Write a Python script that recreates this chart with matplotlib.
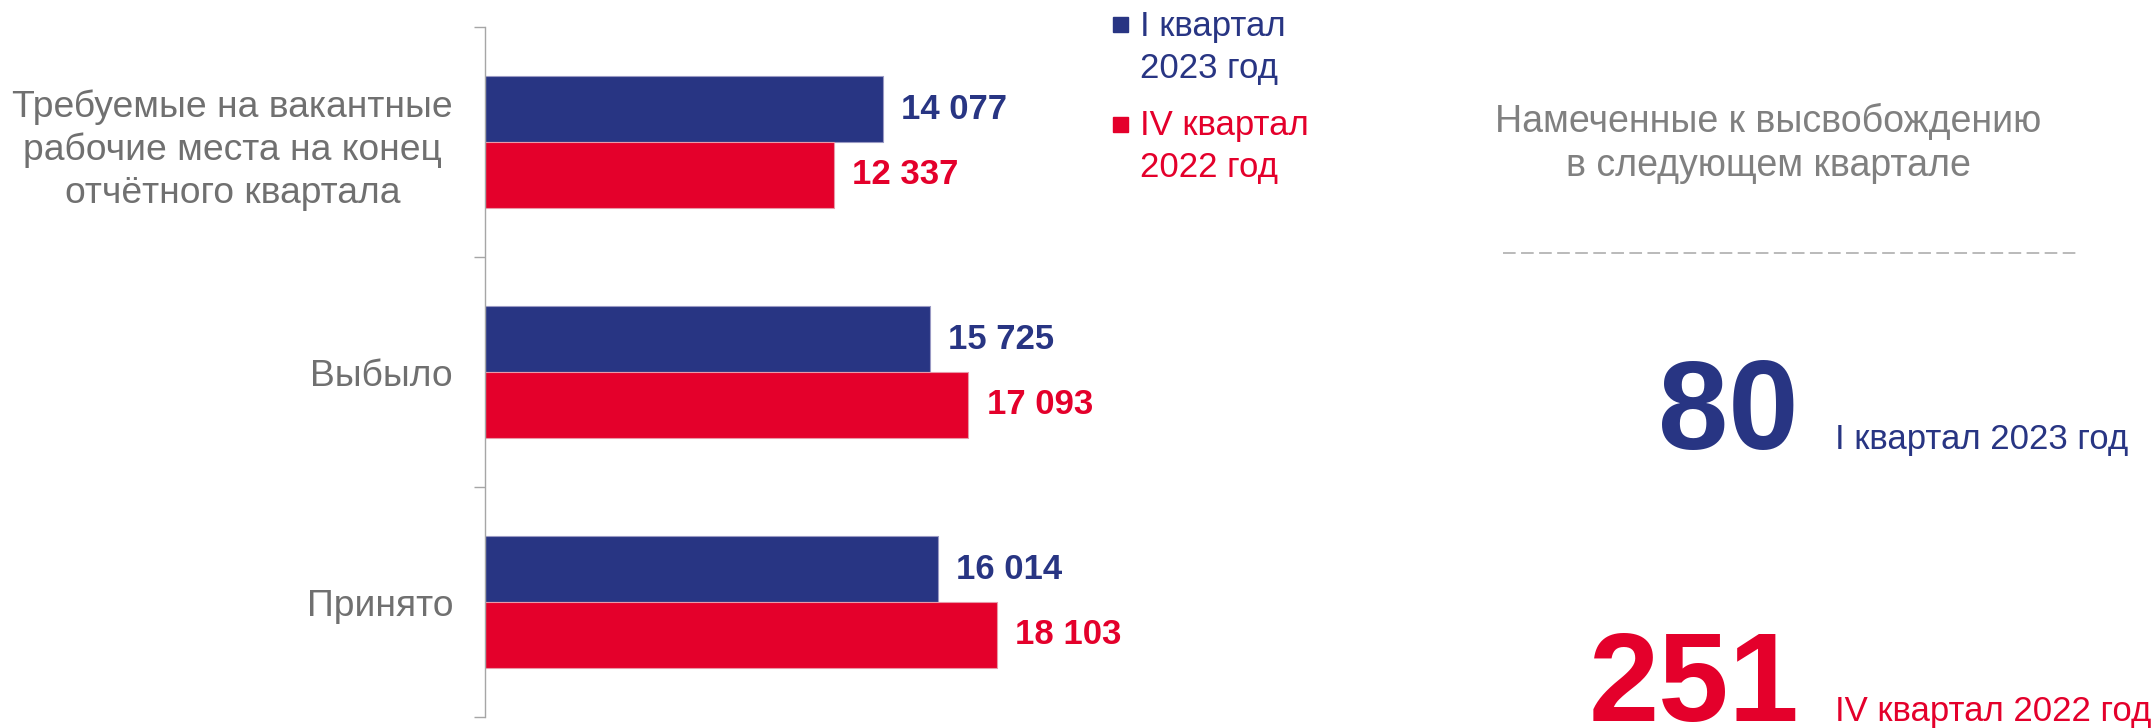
import numpy as np
import matplotlib
matplotlib.use("Agg")
import matplotlib.pyplot as plt
from matplotlib.patches import Rectangle
from matplotlib.lines import Line2D

plt.rcParams['font.family'] = ['Liberation Sans', 'DejaVu Sans']

# данные
categories = ["Требуемые на вакантные\nрабочие места на конец\nотчётного квартала",
              "Выбыло",
              "Принято"]
q1_2023 = [14077, 15725, 16014]
q4_2022 = [12337, 17093, 18103]
series_labels = ["I квартал\n2023 год", "IV квартал\n2022 год"]
release_values = [80, 251]
release_labels = ["I квартал 2023 год", "IV квартал 2022 год"]
release_title = "Намеченные к высвобождению\nв следующем квартале"

BLUE = "#283583"
RED = "#E4002B"
GREY = "#707070"

W, H = 2153, 728
fig = plt.figure(figsize=(W / 100, H / 100), dpi=100)
ax = fig.add_axes([485 / W, 11 / H, 792 / W, 690 / H])

y = np.arange(len(categories))
h = 1 / 3.5
b1 = ax.barh(y - h / 2, q1_2023, height=h, color=BLUE, edgecolor="#9a9ac4", linewidth=0.8)
b2 = ax.barh(y + h / 2, q4_2022, height=h, color=RED, edgecolor="#e899a8", linewidth=0.8)

fmt = lambda v: f"{v:,}".replace(",", " ")
ax.bar_label(b1, labels=[fmt(v) for v in q1_2023], padding=13, color=BLUE,
             fontsize=25, fontweight="bold")
ax.bar_label(b2, labels=[fmt(v) for v in q4_2022], padding=13, color=RED,
             fontsize=25, fontweight="bold")

ax.set_xlim(0, 28000)
ax.set_ylim(len(categories) - 0.5, -0.5)
ax.set_yticks(y)
ax.set_yticklabels(categories, fontsize=26.8, color=GREY, multialignment="center",
                   linespacing=1.28)
ax.set_yticks(np.arange(len(categories) + 1) - 0.5, minor=True)
ax.tick_params(axis="y", which="major", length=0, pad=23)
ax.tick_params(axis="y", which="minor", length=8, width=1, color="#a6a6a6")
ax.set_xticks([])
for s in ["top", "right", "bottom"]:
    ax.spines[s].set_visible(False)
ax.spines["left"].set_color("#a6a6a6")
ax.spines["left"].set_linewidth(1)

# легенда
for i, (lab, col) in enumerate(zip(series_labels, [BLUE, RED])):
    top = 17 + i * 100
    fig.add_artist(Rectangle((1113 / W, 1 - (top + 15) / H), 15 / W, 15 / H,
                             transform=fig.transFigure, color=col))
    fig.text(1140 / W, 1 - (78 + i * 99) / H, lab, color=col, fontsize=25,
             va="baseline", ha="left", linespacing=1.33)

# правая часть
fig.text(1768 / W, 1 - 176 / H, release_title, color="#808080", fontsize=27,
         ha="center", va="baseline", multialignment="center", linespacing=1.28)
fig.add_artist(Line2D([1503 / W, 2080 / W], [1 - 253 / H, 1 - 253 / H],
                      transform=fig.transFigure, color="#b4b4b4", lw=1.3,
                      dashes=(7, 3)))
for val, lab, col, base in zip(release_values, release_labels, [BLUE, RED], [449, 721]):
    fig.text(1799 / W, 1 - base / H, str(val), color=col, fontsize=91,
             fontweight="bold", ha="right", va="baseline")
    fig.text(1835 / W, 1 - base / H, lab, color=col, fontsize=25,
             ha="left", va="baseline")

fig.savefig("out.png", dpi=100)
